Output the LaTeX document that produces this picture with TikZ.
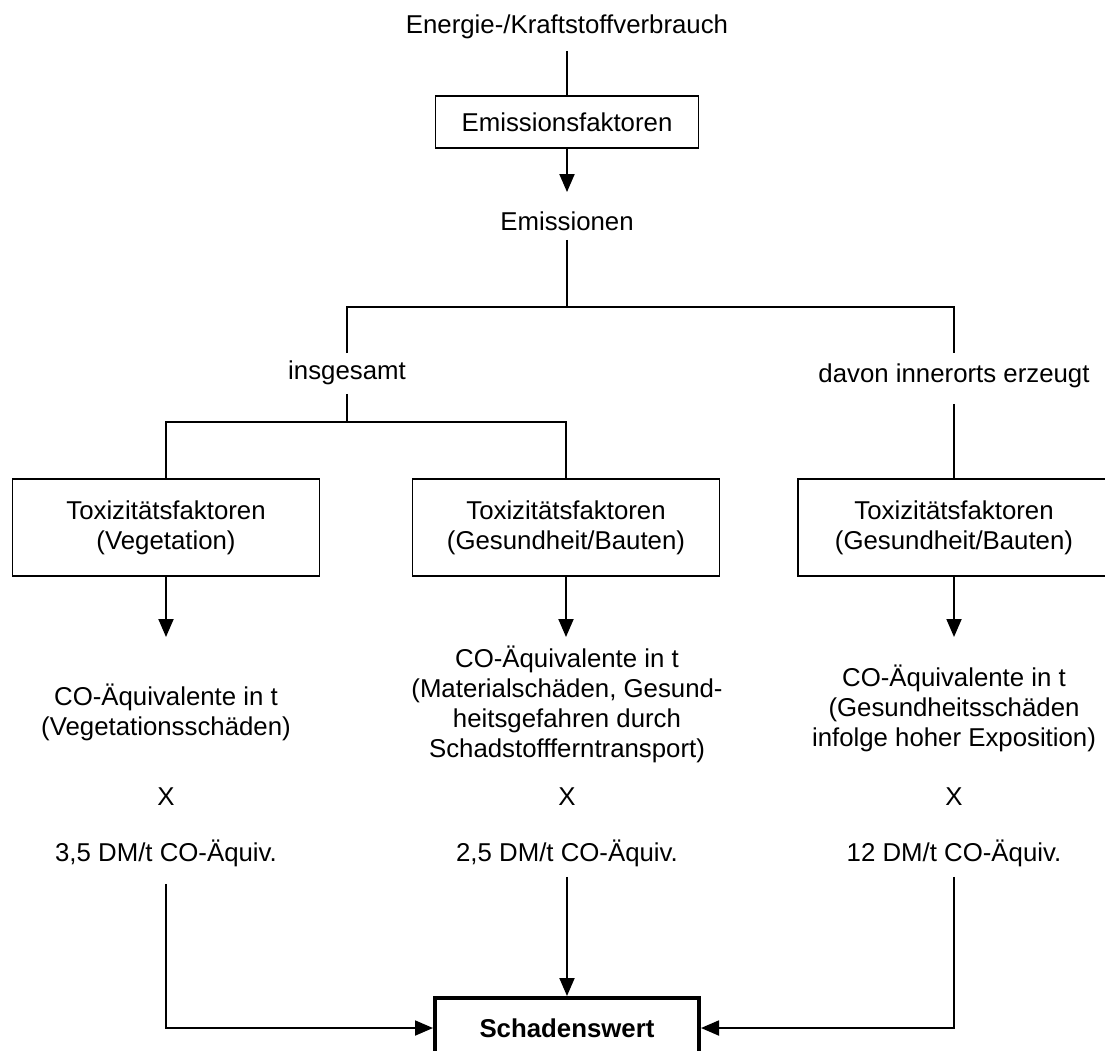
\documentclass[tikz,border=0pt]{standalone}
\usepackage{fontspec}
\setmainfont{Liberation Sans}
\usetikzlibrary{arrows.meta}
\begin{document}
\begin{tikzpicture}[x=1pt,y=-1pt,
  line width=1.9pt,
  every node/.style={font=\fontsize{25.8pt}{30pt}\selectfont},
  arr/.style={-{Triangle[length=18pt,width=15pt]}},
  lab/.style 2 args={anchor=base,inner sep=0pt,text height=#1,text depth=#2},
  fbox/.style={draw,line width=1.9pt,inner sep=0pt,align=center},
  multi/.style={align=center,inner sep=0pt}
]
\useasboundingbox (0,0) rectangle (1105,1050);

% top chain
\node[lab={20pt}{17pt}] (energie) at (567,33) {Energie-/Kraftstoffverbrauch};
\node[fbox,minimum width=263pt,minimum height=52pt] (ef) at (567,122) {Emissionsfaktoren};
\node[lab={37pt}{9pt}] (em) at (567,230) {Emissionen};
\draw (energie) -- (ef);
\draw[arr] (ef) -- (em);

% first split
\coordinate (jm) at (567,307);
\node[lab={25pt}{14pt}] (ins) at (347,379) {insgesamt};
\node[lab={28pt}{21pt}] (davon) at (954,382) {davon innerorts erzeugt};
\draw (em) -- (jm);
\draw (ins.north) |- (jm) -| (davon.north);

% boxes
\node[fbox,minimum width=307pt,minimum height=97pt] (tb1) at (166,527.5) {Toxizitätsfaktoren\\(Vegetation)};
\node[fbox,minimum width=307pt,minimum height=97pt] (tb2) at (566,527.5) {Toxizitätsfaktoren\\(Gesundheit/Bauten)};
\node[fbox,minimum width=312pt,minimum height=97pt] (tb3) at (954,527.5) {Toxizitätsfaktoren\\(Gesundheit/Bauten)};

% second split
\coordinate (jl) at (347,422);
\draw (ins.south) -- (jl);
\draw (tb1.north) |- (jl) -| (tb2.north);
\draw (davon.south) -- (tb3.north);

% arrows to CO texts
\coordinate (tip1) at (166,637);
\coordinate (tip2) at (566,637);
\coordinate (tip3) at (954,637);
\draw[arr] (tb1.south) -- (tip1);
\draw[arr] (tb2.south) -- (tip2);
\draw[arr] (tb3.south) -- (tip3);

% CO texts
\node[multi] (co1) at (166,712.6) {CO-Äquivalente in t\\(Vegetationsschäden)};
\node[multi] (co2) at (567,704.1) {CO-Äquivalente in t\\(Materialschäden, Gesund-\\heitsgefahren durch\\Schadstoffferntransport)};
\node[multi] (co3) at (954,708.6) {CO-Äquivalente in t\\(Gesundheitsschäden\\infolge hoher Exposition)};

% X
\node[lab={19pt}{0pt}] (x1) at (166,805) {X};
\node[lab={19pt}{0pt}] (x2) at (567,805) {X};
\node[lab={19pt}{0pt}] (x3) at (954,805) {X};

% DM values
\node[lab={19pt}{22pt}] (dm1) at (166,861) {3,5 DM/t CO-Äquiv.};
\node[lab={19pt}{15pt}] (dm2) at (567,861) {2,5 DM/t CO-Äquiv.};
\node[lab={19pt}{15pt}] (dm3) at (954,861) {12 DM/t CO-Äquiv.};

% result
\node[draw,line width=4pt,minimum width=264pt,minimum height=60pt,inner sep=0pt,font=\fontsize{25.8pt}{30pt}\selectfont\bfseries] (sw) at (567,1028) {Schadenswert};
\draw[arr] (dm1.south) |- (sw.west);
\draw[arr] (dm2.south) -- (sw.north);
\draw[arr] (dm3.south) |- (sw.east);
\end{tikzpicture}
\end{document}
